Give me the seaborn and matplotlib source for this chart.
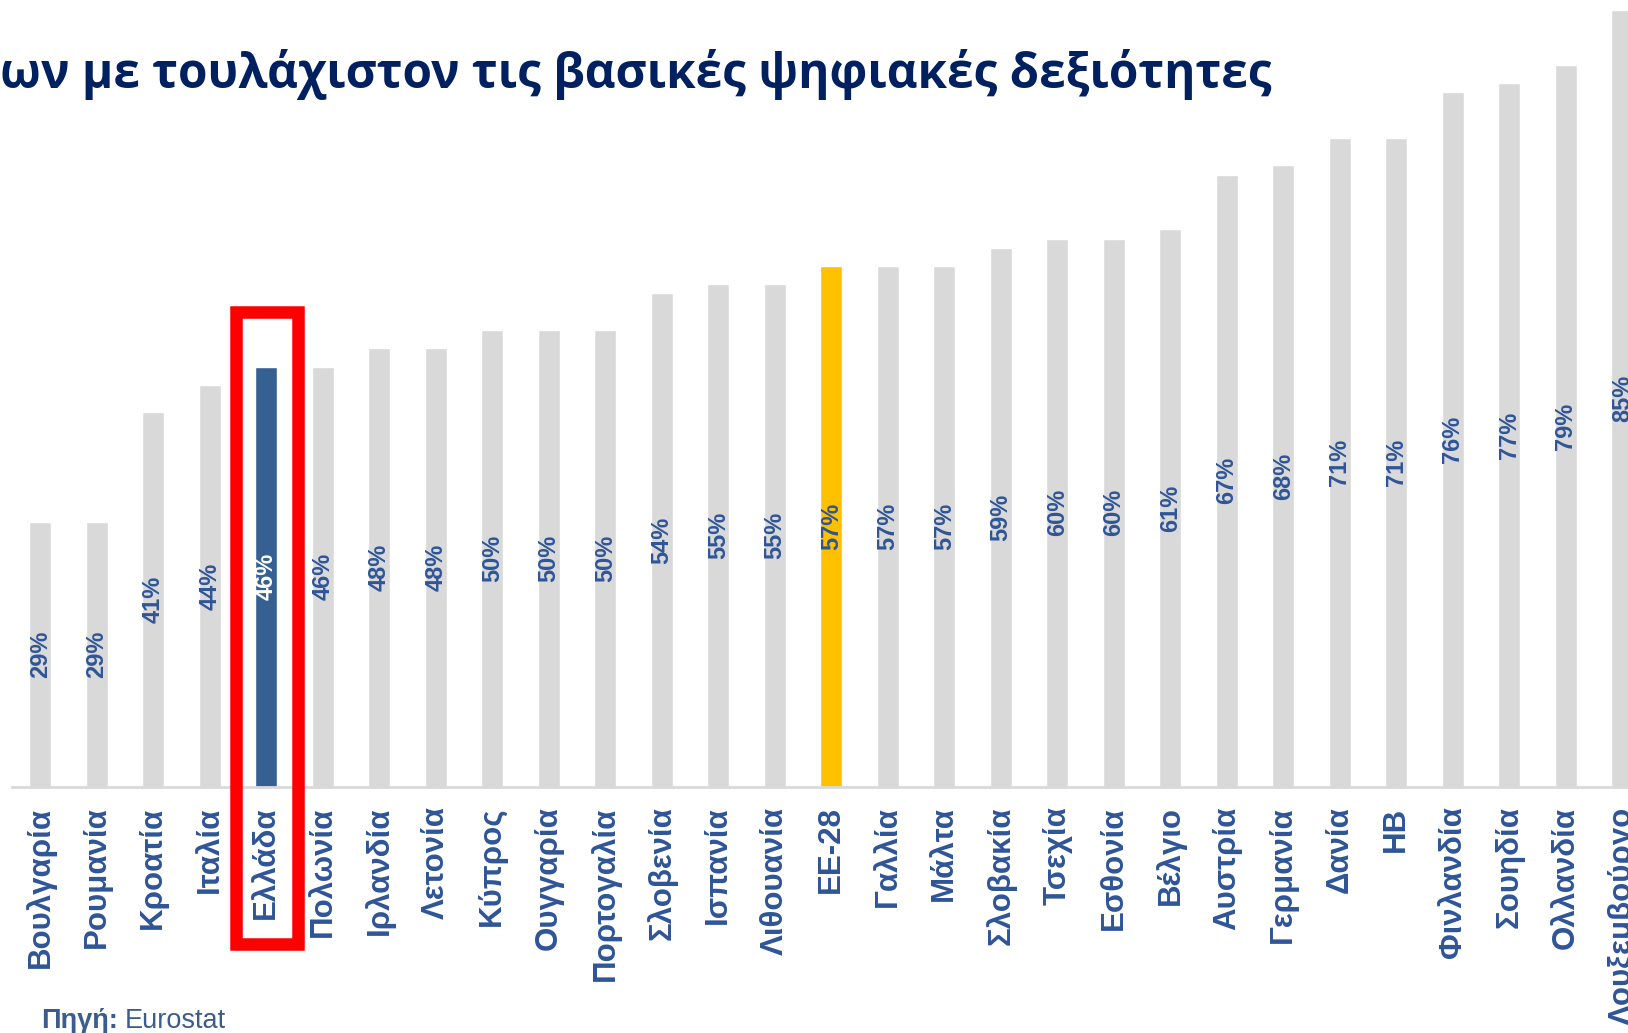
import matplotlib
matplotlib.use("Agg")
import matplotlib.pyplot as plt
import seaborn as sns
import pandas as pd
from matplotlib.patches import Rectangle

countries = ["Βουλγαρία", "Ρουμανία", "Κροατία", "Ιταλία", "Ελλάδα", "Πολωνία",
             "Ιρλανδία", "Λετονία", "Κύπρος", "Ουγγαρία", "Πορτογαλία", "Σλοβενία",
             "Ισπανία", "Λιθουανία", "ΕΕ-28", "Γαλλία", "Μάλτα", "Σλοβακία",
             "Τσεχία", "Εσθονία", "Βέλγιο", "Αυστρία", "Γερμανία", "Δανία", "ΗΒ",
             "Φινλανδία", "Σουηδία", "Ολλανδία", "Λουξεμβούργο"]
values = [29, 29, 41, 44, 46, 46, 48, 48, 50, 50, 50, 54, 55, 55, 57, 57, 57, 59,
          60, 60, 61, 67, 68, 71, 71, 76, 77, 79, 85]
highlight = "Ελλάδα"
average = "ΕΕ-28"
title = "ων με τουλάχιστον τις βασικές ψηφιακές δεξιότητες"
source_bold = "Πηγή:"
source_text = "Eurostat"

GREY = "#d9d9d9"
GREECE = "#376092"
EU = "#ffc000"
TXT = "#2f5597"

sns.set_theme(style="white")
plt.rcParams['font.family'] = ['Liberation Sans', 'DejaVu Sans']

df = pd.DataFrame({"country": countries, "value": values})
palette = {c: (GREECE if c == highlight else EU if c == average else GREY) for c in countries}

fig = plt.figure(figsize=(16.28, 10.33), dpi=100)
ax = fig.add_axes([12 / 1628, 1 - 787 / 1033, 1 - 12 / 1628, 787 / 1033])

sns.barplot(data=df, x="country", y="value", hue="country", palette=palette,
            legend=False, width=0.39, saturation=1, ax=ax)

ax.set_xlim(-0.5, 28.1)
ax.set_ylim(0, 86.1)
ax.set_xlabel("")
ax.set_ylabel("")
ax.set_yticks([])
for s in ["top", "left", "right"]:
    ax.spines[s].set_visible(False)
ax.spines["bottom"].set_color(GREY)
ax.spines["bottom"].set_linewidth(2)
ax.tick_params(axis="x", length=0, pad=14)
ax.set_xticks(range(len(countries)))
ax.set_xticklabels(countries, rotation=90, fontsize=22.5, fontweight="bold",
                   color=TXT, va="top", ha="center")

for i, (c, v) in enumerate(zip(countries, values)):
    ax.text(i, v / 2, f"{v}%", rotation=90, ha="center", va="center",
            fontsize=17, fontweight="bold",
            color="white" if c == highlight else TXT)

hi = countries.index(highlight)
hv = values[hi]
ax.add_patch(Rectangle((hi - 0.54, -17.2), 1.1, hv + 6 + 17.2, fill=False,
                       edgecolor="#ff0000", linewidth=9, clip_on=False, zorder=5))

fig.text(0.0, 1 - 88 / 1033, title, fontsize=34.3, fontweight="bold",
         color="#002060", family=["Open Sans", "DejaVu Sans"], va="baseline", ha="left")

t1 = fig.text(41 / 1628, 1 - 1028 / 1033, source_bold, fontsize=19.5, fontweight="bold",
              color="#3b5c8f", va="baseline", ha="left")
fig.canvas.draw()
bb = t1.get_window_extent()
fig.text((bb.x1 + 7) / 1628, 1 - 1028 / 1033, source_text, fontsize=19.5,
         color="#3b5c8f", va="baseline", ha="left")

fig.savefig("out.png", dpi=100)
